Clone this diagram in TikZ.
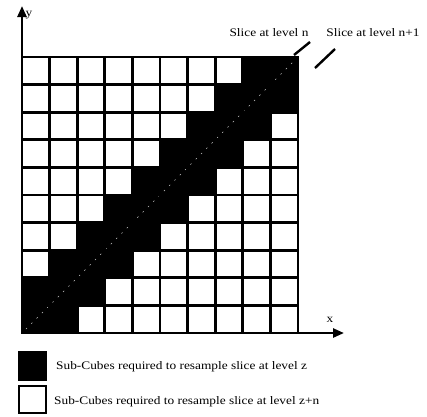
\documentclass[tikz,border=0pt]{standalone}
\usepackage{fontspec}
\setmainfont[FakeStretch=1.16]{Liberation Serif}
\usetikzlibrary{arrows.meta}
\begin{document}
\begin{tikzpicture}[x=1pt,y=-1pt,
  gridline/.style={line width=2.8pt, line cap=rect},
  axisline/.style={line width=2.5pt, -{Triangle[length=11pt,width=9pt]}},
  pointer/.style={line width=2.4pt},
  lbl/.style={font=\fontsize{11.5}{13}\selectfont, inner sep=0pt},
  cellblack/.style={fill=black},
  faint/.style={gray!45, line width=0.5pt, dash pattern=on 1.5pt off 6pt}]
\useasboundingbox (0,0) rectangle (427,416);
% black cells (band around diagonal)
\foreach \r in {1,...,10}{
  \pgfmathtruncatemacro\j{11-\r}
  \foreach \c in {1,...,10}{
    \pgfmathtruncatemacro\d{abs(\c-\j)}
    \ifnum\d<2
      \fill[cellblack] ({22+(\c-1)*27.6},{57+(\r-1)*27.6}) rectangle ++(27.6,27.6);
    \fi
  }
}
% faint diagonal slice
\draw[faint] (26,329) -- (294,61);
% grid lines
\foreach \i in {0,...,10}{
  \draw[gridline] ({22+\i*27.6},57) -- ({22+\i*27.6},333);
  \draw[gridline] (22,{57+\i*27.6}) -- (298,{57+\i*27.6});
}
% axes
\coordinate (O) at (22,333);
\coordinate (ytip) at (22,6);
\coordinate (xtip) at (344,333);
\draw[axisline] (O) -- (ytip);
\draw[axisline] (O) -- (xtip);
\node[lbl] (ylab) at (29,15) {y};
\node[lbl] (xlab) at (330,320) {x};
% slice labels
\node[lbl] (sn) at (269,33) {Slice at level n};
\node[lbl] (sn1) at (373,33) {Slice at level n+1};
\coordinate (p1a) at (294,55);
\coordinate (p1b) at (310,42);
\coordinate (p2a) at (315,68);
\coordinate (p2b) at (335,49);
\draw[pointer] (p1a) -- (p1b);
\draw[pointer] (p2a) -- (p2b);
% legend
\node[draw=black, fill=black, line width=1.5pt, minimum width=28pt, minimum height=28pt, inner sep=0pt] (lb) at (32.5,366) {};
\node[draw=black, fill=white, line width=2pt, minimum width=27pt, minimum height=27pt, inner sep=0pt] (lw) at (32.5,399) {};
\node[lbl, anchor=west] (t1) at (56,367) {Sub-Cubes required to resample slice at level z};
\node[lbl, anchor=west] (t2) at (54,402) {Sub-Cubes required to resample slice at level z+n};
\end{tikzpicture}
\end{document}
